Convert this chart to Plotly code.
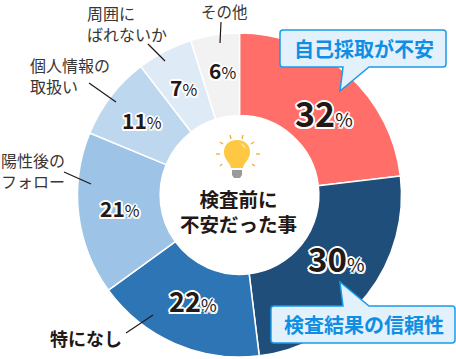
import plotly.graph_objects as go

labels = ["自己採取が不安", "検査結果の信頼性", "特になし", "陽性後のフォロー", "個人情報の取扱い", "周囲にばれないか", "その他"]
shown_percent = ["32", "30", "22", "21", "11", "7", "6"]
slice_sizes = [83.3, 89.7, 61, 58.5, 30, 20, 17.5]
colors = ["#ff6e69", "#1f4e7a", "#2e75b6", "#9dc3e6", "#bdd7ee", "#deebf7", "#f2f2f2"]

W, H = 456, 359
FONT = "Noto Sans CJK JP"
INK = "#231815"
BLUE = "#0f8fe3"

fig = go.Figure(go.Pie(
    labels=labels, values=slice_sizes, sort=False, direction="clockwise", rotation=0,
    hole=0.49, textinfo="none", hoverinfo="skip", showlegend=False,
    marker=dict(colors=colors, line=dict(color="white", width=1.5)),
    domain=dict(x=[77.5/W, 401.5/W], y=[1-357/H, 1-33/H]),
))

halo = ",".join(f"white {x}px {y}px 0.5px" for x, y in
                [(2,0),(-2,0),(0,2),(0,-2),(1.5,1.5),(-1.5,1.5),(1.5,-1.5),(-1.5,-1.5)])
ann = []
pct_pos = [(324,112,34,19),(336,258,33,19),(193,300,27,17),(120,208,21,16),(142,120,21,16),(183,87,21,16),(222,70,21,16)]
for s, (x, y, a, b) in zip(shown_percent, pct_pos):
    ann.append(dict(x=x, y=y, xref="x", yref="y", showarrow=False, xanchor="center", yanchor="middle",
                    text=f"<b>{s}</b><span style='font-size:{b}px'>%</span>",
                    font=dict(family=FONT, size=a, color=INK, shadow=halo)))

def text(s, x, y, size, color="#3a3533", anchor="left", bold=False):
    ann.append(dict(x=x, y=y, xref="x", yref="y", showarrow=False, xanchor=anchor, yanchor="middle",
                    align="left" if anchor == "left" else "center", borderpad=0,
                    text=f"<b>{s}</b>" if bold else s,
                    font=dict(family=FONT, size=size, color=color)))

text("周囲に<br>ばれないか", 86, 23, 16)
text("その他", 200, 11, 15.5)
text("個人情報の<br>取扱い", 29, 75, 16)
text("陽性後の<br>フォロー", 0, 170, 16)
text("特になし", 49, 338, 18, INK, bold=True)
text("検査前に<br>不安だった事", 238, 211, 19.5, INK, "center", True)
text("自己採取が不安", 364, 48, 20, BLUE, "center", True)
text("検査結果の信頼性", 364, 324, 20, BLUE, "center", True)

shapes = []
for x0, y0, x1, y1 in [(221,22,220,43),(148,44,165,61),(89,83,116,102),(64,172,91,184),(126,333,153,315)]:
    shapes.append(dict(type="line", xref="x", yref="y", x0=x0, y0=y0, x1=x1, y1=y1,
                       line=dict(color=INK, width=1.2)))

def callout(x0, x1, y0, y1, path_tip):
    r = 3
    if path_tip[1] > y1:
        tip = f"L369,{y1} L{path_tip[0]},{path_tip[1]} L343,{y1} "
        d = (f"M{x0+r},{y0} L{x1-r},{y0} Q{x1},{y0} {x1},{y0+r} L{x1},{y1-r} Q{x1},{y1} {x1-r},{y1} "
             + tip + f"L{x0+r},{y1} Q{x0},{y1} {x0},{y1-r} L{x0},{y0+r} Q{x0},{y0} {x0+r},{y0} Z")
    else:
        tip = f"L343,{y0} L{path_tip[0]},{path_tip[1]} L369,{y0} "
        d = (f"M{x0+r},{y0} " + tip + f"L{x1-r},{y0} Q{x1},{y0} {x1},{y0+r} L{x1},{y1-r} Q{x1},{y1} {x1-r},{y1} "
             f"L{x0+r},{y1} Q{x0},{y1} {x0},{y1-r} L{x0},{y0+r} Q{x0},{y0} {x0+r},{y0} Z")
    shapes.append(dict(type="path", xref="x", yref="y", path=d, fillcolor="#e3f1fd",
                       line=dict(color="#1a9be8", width=1.5)))

callout(280, 446, 30, 67, (340, 91))
callout(271, 455, 306, 343, (340, 282))

# light bulb
Y = "#ffc842"
shapes.append(dict(type="path", xref="x", yref="y", fillcolor=Y, line=dict(width=0),
                   path="M231,168 C230,162 224,160 224,152 C224,144 230,140 237,140 C244,140 250,144 250,152 C250,160 244,162 243,168 Z"))
shapes.append(dict(type="path", xref="x", yref="y", fillcolor="white", line=dict(width=0), opacity=0.8,
                   path="M240,143 C243,144 245,146 246,149 C244,147 242,145 240,143 Z"))
shapes.append(dict(type="path", xref="x", yref="y", fillcolor="#9a9a9a", line=dict(width=0),
                   path="M232,170 L242,170 L242,175 L240,178 L234,178 L232,175 Z"))
for x0, y0, x1, y1 in [(230,135,231,139),(243,135,242,139),(220,142,223,144),(254,142,251,144),(216,154,220,154),(256,154,260,154),(220,166,222,164),(252,164,255,166)]:
    shapes.append(dict(type="line", xref="x", yref="y", x0=x0, y0=y0, x1=x1, y1=y1,
                       line=dict(color="#f5a93c", width=1.3)))

fig.update_layout(
    width=W, height=H, margin=dict(l=0, r=0, t=0, b=0),
    paper_bgcolor="white", plot_bgcolor="rgba(0,0,0,0)",
    xaxis=dict(range=[0, W], visible=False, domain=[0, 1], fixedrange=True),
    yaxis=dict(range=[H, 0], visible=False, domain=[0, 1], fixedrange=True),
    annotations=ann, shapes=shapes, font=dict(family=FONT),
)
fig.write_html("out.html", config={"displayModeBar": False},
               post_script="document.body.style.margin='0';document.body.style.overflow='hidden';")
